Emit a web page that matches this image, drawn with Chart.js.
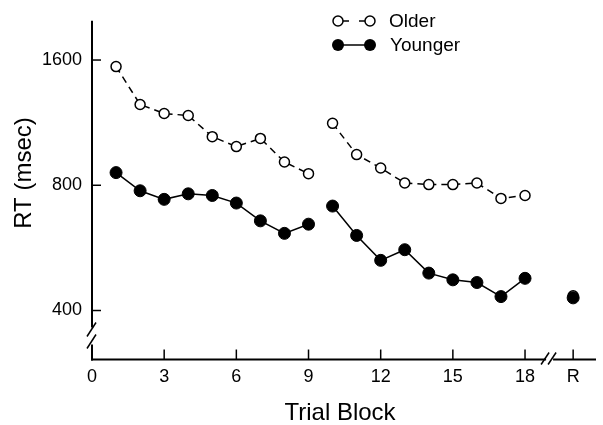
<!DOCTYPE html>
<html>
<head>
<meta charset="utf-8">
<script src="https://cdn.jsdelivr.net/npm/chart.js@4/dist/chart.umd.min.js"></script>
<style>
  html, body { margin: 0; padding: 0; background: #fff; }
  #c { display: block; }
</style>
</head>
<body>
<canvas id="c" width="603" height="425"></canvas>
<script>
// ---- data ----
const blocksA = [1, 2, 3, 4, 5, 6, 7, 8, 9];
const blocksB = [10, 11, 12, 13, 14, 15, 16, 17, 18];
const olderA = [1543, 1251, 1190, 1177, 1047, 991, 1037, 910, 853];
const olderB = [1127, 948, 880, 810, 803, 803, 810, 744, 756];
const youngerA = [858, 776, 740, 763, 756, 725, 657, 613, 645];
const youngerB = [713, 606, 528, 560, 492, 474, 467, 432, 478];
const retentionBlock = 20;
const olderR = 434;
const youngerR = 429;

const xTickValues = [0, 3, 6, 9, 12, 15, 18, 20];
const xTickLabels = ['0', '3', '6', '9', '12', '15', '18', 'R'];
const yTickValues = [400, 800, 1600];

const seriesNames = ['Older', 'Younger'];
const xTitle = 'Trial Block';
const yTitle = 'RT (msec)';

const FONT = '"Liberation Sans", Arial, Helvetica, sans-serif';

function pts(xs, ys) { return xs.map((x, i) => ({ x: x, y: ys[i] })); }

const olderStyle = {
  borderColor: '#000', borderWidth: 1.5, borderDash: [7, 5],
  pointRadius: 5, pointBackgroundColor: '#fff', pointBorderColor: '#000',
  pointBorderWidth: 1.5, showLine: true, fill: false, order: 1, clip: false
};
const youngerStyle = {
  borderColor: '#000', borderWidth: 1.5,
  pointRadius: 6, pointBackgroundColor: '#000', pointBorderColor: '#000',
  pointBorderWidth: 1, showLine: true, fill: false, order: 0, clip: false
};

const datasets = [
  Object.assign({ label: seriesNames[0], data: pts(blocksA, olderA) }, olderStyle),
  Object.assign({ label: seriesNames[0], data: pts(blocksB, olderB) }, olderStyle),
  Object.assign({ label: seriesNames[0], data: [{ x: retentionBlock, y: olderR }] }, olderStyle),
  Object.assign({ label: seriesNames[1], data: pts(blocksA, youngerA) }, youngerStyle),
  Object.assign({ label: seriesNames[1], data: pts(blocksB, youngerB) }, youngerStyle),
  Object.assign({ label: seriesNames[1], data: [{ x: retentionBlock, y: youngerR }] }, youngerStyle)
];

function seg(ctx, x1, y1, x2, y2) {
  ctx.beginPath(); ctx.moveTo(x1, y1); ctx.lineTo(x2, y2); ctx.stroke();
}

const decor = {
  id: 'decor',
  beforeDatasetsDraw(chart) {
    const { ctx, chartArea, scales } = chart;
    const { left, right, top, bottom } = chartArea;
    const x = scales.x, y = scales.y;
    ctx.save();
    ctx.strokeStyle = '#000';
    ctx.lineCap = 'butt';
    // y axis with break
    ctx.lineWidth = 2;
    seg(ctx, left, top, left, bottom - 32);
    seg(ctx, left, bottom - 15, left, bottom + 1);
    ctx.lineWidth = 1.5;
    seg(ctx, left - 5, bottom - 23, left + 4, bottom - 37);
    seg(ctx, left - 5, bottom - 11, left + 4, bottom - 25);
    // x axis with break
    const bx = x.getPixelForValue(19);
    ctx.lineWidth = 2;
    seg(ctx, left - 1, bottom, bx - 3, bottom);
    seg(ctx, bx + 4, bottom, right, bottom);
    ctx.lineWidth = 1.5;
    seg(ctx, bx - 8, bottom + 5, bx + 0, bottom - 7);
    seg(ctx, bx - 1, bottom + 5, bx + 7, bottom - 7);
    // inward tick marks
    ctx.lineWidth = 1.5;
    yTickValues.forEach(v => {
      const py = y.getPixelForValue(v);
      seg(ctx, left, py, left + 9, py);
    });
    xTickValues.forEach(v => {
      if (v === 0) return;
      const px = x.getPixelForValue(v);
      seg(ctx, px, bottom, px, bottom - 10);
    });
    ctx.restore();
  },
  afterDraw(chart) {
    const { ctx } = chart;
    ctx.save();
    ctx.fillStyle = '#000';
    // axis titles
    ctx.font = '24px ' + FONT;
    ctx.textAlign = 'center';
    ctx.textBaseline = 'middle';
    ctx.fillText(xTitle, 340, 413);
    ctx.save();
    ctx.translate(24, 173);
    ctx.rotate(-Math.PI / 2);
    ctx.fillText(yTitle, 0, 0);
    ctx.restore();
    // legend
    const lx1 = 338, lx2 = 370, ly1 = 21, ly2 = 45;
    ctx.strokeStyle = '#000';
    ctx.lineWidth = 1.5;
    seg(ctx, lx1 + 5, ly1, lx1 + 11, ly1);
    seg(ctx, lx2 - 11, ly1, lx2 - 5, ly1);
    [lx1, lx2].forEach(cx => {
      ctx.beginPath(); ctx.arc(cx, ly1, 5, 0, Math.PI * 2);
      ctx.fillStyle = '#fff'; ctx.fill(); ctx.stroke();
    });
    seg(ctx, lx1, ly2, lx2, ly2);
    ctx.fillStyle = '#000';
    [lx1, lx2].forEach(cx => {
      ctx.beginPath(); ctx.arc(cx, ly2, 6, 0, Math.PI * 2); ctx.fill();
    });
    ctx.font = '19px ' + FONT;
    ctx.textAlign = 'left';
    ctx.textBaseline = 'middle';
    ctx.fillText(seriesNames[0], 389, ly1 + 1);
    ctx.fillText(seriesNames[1], 390, ly2 + 1);
    ctx.restore();
  }
};

new Chart(document.getElementById('c'), {
  type: 'scatter',
  data: { datasets: datasets },
  plugins: [decor],
  options: {
    responsive: false,
    animation: false,
    devicePixelRatio: 1,
    layout: { padding: { top: 17, right: 0, left: 0, bottom: 0 } },
    plugins: { legend: { display: false }, tooltip: { enabled: false } },
    scales: {
      x: {
        type: 'linear', min: 0, max: 20.95,
        grid: { display: false, drawTicks: false },
        border: { display: false },
        afterBuildTicks: (s) => { s.ticks = xTickValues.map(v => ({ value: v })); },
        afterFit: (s) => { s.height = 65.5; },
        ticks: {
          autoSkip: false, maxRotation: 0, padding: 7, color: '#000',
          font: { family: FONT, size: 18 },
          callback: (v, i) => xTickLabels[i]
        }
      },
      y: {
        type: 'logarithmic', min: 305, max: 1988,
        grid: { display: false, drawTicks: false },
        border: { display: false },
        afterBuildTicks: (s) => { s.ticks = yTickValues.map(v => ({ value: v })); },
        afterFit: (s) => { s.width = 92; },
        ticks: {
          padding: 10, color: '#000',
          font: { family: FONT, size: 18 },
          callback: (v) => String(v)
        }
      }
    }
  }
});
</script>
</body>
</html>
